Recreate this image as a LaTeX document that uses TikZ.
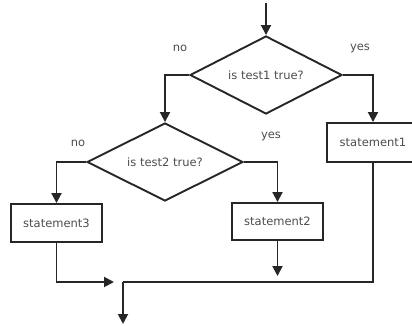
\documentclass[tikz,border=0pt]{standalone}
\usepackage{fontspec}
\setmainfont{DejaVu Sans}
\usetikzlibrary{shapes.geometric,arrows.meta}
\tikzset{
  conn/.style={line width=1.9pt, draw=black!85},
  arr/.style={conn, -{Triangle[length=10pt,width=10pt]}},
  dia/.style={diamond, draw=black!85, line width=1.9pt, inner sep=0pt, shape aspect=2, font=\fontsize{11.5}{13}\selectfont, text=black!70},
  box/.style={rectangle, draw=black!85, line width=1.9pt, inner sep=0pt, font=\fontsize{11.5}{13}\selectfont, text=black!70},
  lbl/.style={font=\fontsize{11.5}{13}\selectfont, text=black!70, inner sep=0pt}
}
\begin{document}
\begin{tikzpicture}[x=1pt,y=-1pt]
\useasboundingbox (0,0) rectangle (412,326);
\node[dia, minimum width=152pt, minimum height=78pt] (d1) at (266,75) {is test1 true?};
\node[dia, minimum width=156pt, minimum height=78pt] (d2) at (165,162) {is test2 true?};
\node[box, minimum width=92pt, minimum height=39pt] (s1) at (373,142.5) {statement1};
\node[box, minimum width=91pt, minimum height=37pt] (s2) at (277.5,221.5) {statement2};
\node[box, minimum width=91pt, minimum height=38pt] (s3) at (56.5,223) {statement3};
\coordinate (top) at (266,3);
\coordinate (j2) at (277.5,276);
\coordinate (j3) at (114,282);
\coordinate (m1) at (123,282);
\coordinate (end) at (123,324);
\node[lbl] (no1) at (180,48) {no};
\node[lbl] (yes1) at (360,48) {yes};
\node[lbl] (no2) at (78,143) {no};
\node[lbl] (yes2) at (271,136) {yes};
\draw[arr] (top) -- (d1.north);
\draw[arr] (d1.west) -| (d2.north);
\draw[arr] (d1.east) -| (s1.north);
\draw[arr] (d2.west) -| (s3.north);
\draw[arr] (d2.east) -| (s2.north);
\draw[arr] (s2.south) -- (j2);
\draw[arr] (s3.south) |- (j3);
\draw[conn] (s1.south) |- (m1);
\draw[arr] (m1) -- (end);
\end{tikzpicture}
\end{document}
